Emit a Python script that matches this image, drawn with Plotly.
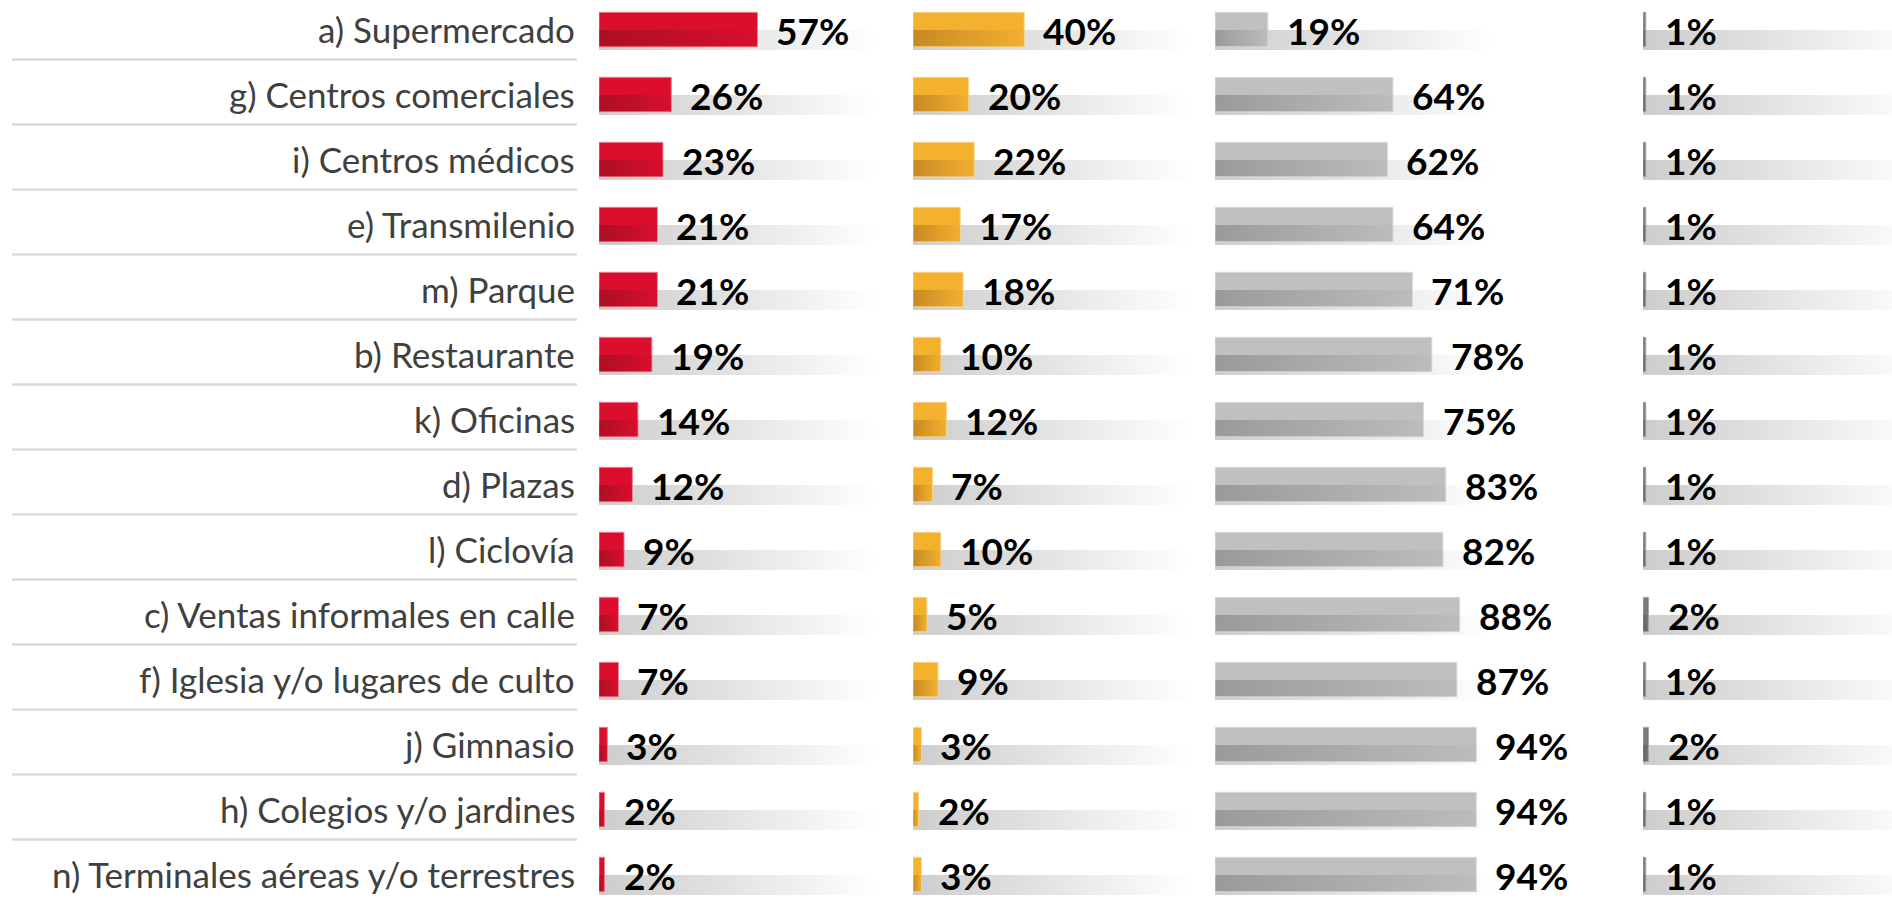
import plotly.graph_objects as go

# ---------------- data ----------------
categories = [
    "a) Supermercado",
    "g) Centros comerciales",
    "i) Centros médicos",
    "e) Transmilenio",
    "m) Parque",
    "b) Restaurante",
    "k) Oficinas",
    "d) Plazas",
    "l) Ciclovía",
    "c) Ventas informales en calle",
    "f) Iglesia y/o lugares de culto",
    "j) Gimnasio",
    "h) Colegios y/o jardines",
    "n) Terminales aéreas y/o terrestres",
]
serie_roja = [57, 26, 23, 21, 21, 19, 14, 12, 9, 7, 7, 3, 2, 2]
serie_naranja = [40, 20, 22, 17, 18, 10, 12, 7, 10, 5, 9, 3, 2, 3]
serie_gris = [19, 64, 62, 64, 71, 78, 75, 83, 82, 88, 87, 94, 94, 94]
serie_gris_oscuro = [1, 1, 1, 1, 1, 1, 1, 1, 1, 2, 1, 2, 1, 1]

series = [serie_roja, serie_naranja, serie_gris, serie_gris_oscuro]

# ---------------- styles ----------------
W, H = 1892, 909
PX_PER_PCT = 2.78
PANEL_LEFT_PX = [599, 913, 1215, 1643]
ROW_PX = 65.0
FIRST_ROW_PX = 29.5

TOP_COLORS = ["#DC0E2E", "#F4B12E", "#C0C0C0", "#7A7A7A"]
BOTTOM_GRAD = [("#AC0F23", "#D80F2E"), ("#C68A24", "#F2AF30"),
               ("#9A9A9A", "#BCBCBC"), ("#5E5E5E", "#7A7A7A")]
BORDER = ["#EE7F90", "#F9D58C", "#DADADA", "#A8A8A8"]
TRACK_SCALE = [[0, "#CDCDCD"], [0.45, "#E2E2E2"], [1, "#FFFFFF"]]

BAR_H = 34.4 / ROW_PX
HALF_OFF = 0.5 / ROW_PX
TRACK_BOTTOM = 20.5 / ROW_PX

LABEL_FONT = "Lato"
n = len(categories)
rows = list(range(n))

fig = go.Figure()

# y axis range so row i centre sits at FIRST_ROW_PX + i*ROW_PX
y_min = -FIRST_ROW_PX / ROW_PX
y_max = y_min + H / ROW_PX

for k, vals in enumerate(series):
    xa = "x" if k == 0 else f"x{k+1}"
    left = PANEL_LEFT_PX[k]
    right = min(W, left + 100 * PX_PER_PCT)
    # ---- tracks ----
    tx, ty = [], []
    for i in rows:
        tx += [0, 100, 100, 0, 0, None]
        ty += [i + HALF_OFF, i + HALF_OFF, i + TRACK_BOTTOM, i + TRACK_BOTTOM, i + HALF_OFF, None]
    fig.add_trace(go.Scatter(
        x=tx, y=ty, xaxis=xa, yaxis="y", mode="lines", fill="toself",
        line=dict(width=0), fillgradient=dict(type="horizontal", colorscale=TRACK_SCALE, start=0, stop=100),
        hoverinfo="skip", showlegend=False))
    # ---- bars (flat top colour) ----
    bx, by = [], []
    for i, v in zip(rows, vals):
        bx += [0, v, v, 0, 0, None]
        by += [i - BAR_H / 2, i - BAR_H / 2, i + BAR_H / 2, i + BAR_H / 2, i - BAR_H / 2, None]
    fig.add_trace(go.Scatter(
        x=bx, y=by, xaxis=xa, yaxis="y", mode="lines", fill="toself",
        fillcolor=TOP_COLORS[k], line=dict(width=1, color=BORDER[k]),
        hoverinfo="skip", showlegend=False))
    # ---- bottom half gradient ----
    c0, c1 = BOTTOM_GRAD[k]
    inset = 0.5 / PX_PER_PCT
    for i, v in zip(rows, vals):
        fig.add_trace(go.Scatter(
            x=[inset, v - inset, v - inset, inset, inset],
            y=[i + HALF_OFF, i + HALF_OFF, i + BAR_H / 2 - 0.5 / ROW_PX, i + BAR_H / 2 - 0.5 / ROW_PX, i + HALF_OFF],
            xaxis=xa, yaxis="y", mode="lines", fill="toself", line=dict(width=0),
            fillgradient=dict(type="horizontal", colorscale=[[0, c0], [1, c1]], start=0, stop=v),
            hoverinfo="skip", showlegend=False))
    # ---- value labels ----
    for i, v in zip(rows, vals):
        fig.add_annotation(
            x=v, y=i, xref=xa, yref="y", text=f"{v}%", showarrow=False,
            xanchor="left", yanchor="middle", xshift=17, yshift=-1,
            font=dict(family=LABEL_FONT, size=37, color="#000000", weight="bold"))
    axis_name = "xaxis" if k == 0 else f"xaxis{k+1}"
    fig.update_layout({axis_name: dict(
        domain=[left / W, right / W], range=[0, (right - left) / PX_PER_PCT],
        anchor="y", visible=False, fixedrange=True)})

# ---- category labels and separators ----
for i, cat in zip(rows, categories):
    fig.add_annotation(
        x=577 / W, y=i, xref="paper", yref="y", text=cat, showarrow=False,
        xanchor="right", yanchor="middle", yshift=1,
        font=dict(family=LABEL_FONT, size=35, color="#404040"))
for i in rows[:-1]:
    fig.add_shape(type="line", xref="paper", yref="y",
                  x0=12 / W, x1=577 / W, y0=i + 30 / ROW_PX, y1=i + 30 / ROW_PX,
                  line=dict(color="#DCDCDC", width=2.5), layer="below")

fig.update_layout(
    width=W, height=H, autosize=False,
    margin=dict(l=0, r=0, t=0, b=0, pad=0),
    paper_bgcolor="white", plot_bgcolor="white",
    yaxis=dict(domain=[0, 1], range=[y_max, y_min], visible=False, fixedrange=True),
    showlegend=False,
    hovermode=False,
)

fig.write_html("out.html", config={"displayModeBar": False},
               post_script="document.body.style.margin='0px';")
